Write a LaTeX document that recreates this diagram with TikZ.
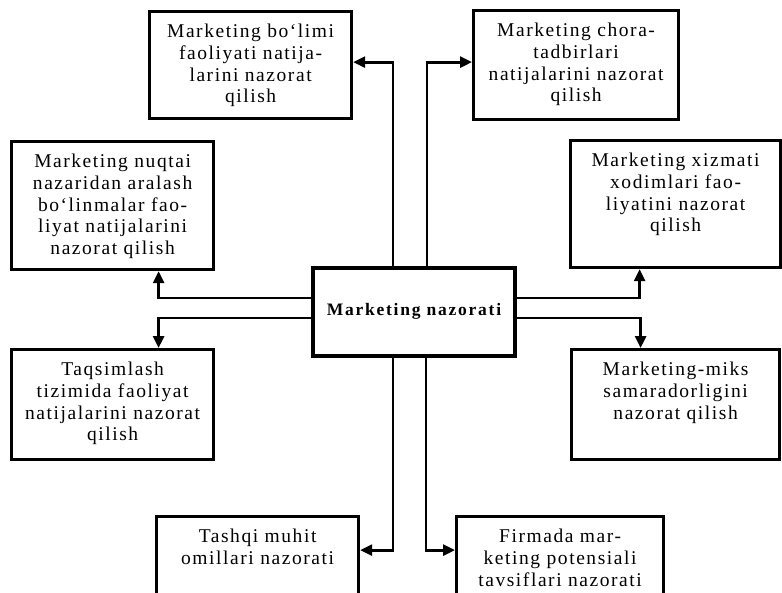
\documentclass[tikz,border=0pt]{standalone}
\usepackage{fontspec}
\setmainfont{Liberation Serif}
\newfontfamily\blokfont[LetterSpace=8]{Liberation Serif}
\newfontfamily\markazfont[LetterSpace=10]{Liberation Serif}
\usetikzlibrary{arrows.meta}
\newcommand{\matn}[3]{\parbox[c][#2][t]{#1}{\blokfont\fontsize{19.5pt}{21.7pt}\selectfont
  \centering\rule{0pt}{26pt}#3}}

\begin{document}
\begin{tikzpicture}[x=1pt,y=-1pt,
  blok/.style={draw,line width=3.2pt,inner sep=0pt,anchor=north west},
  strelka/.style={line width=2.8pt,-{Triangle[length=12pt,width=11pt]}}]
   \useasboundingbox (0,0) rectangle (782,592);
   % markaz
   \node[blok,anchor=center,minimum width=202pt,minimum height=88pt,
     font={\markazfont\bfseries\fontsize{17.5pt}{20pt}\selectfont}] (nazorat) at (414,312)
     {\raisebox{5pt}{Marketing nazorati}};
   % yuqori
   \node[blok] (bolimi) at (148,10)
     {\matn{202pt}{107pt}{Marketing bo‘limi\\faoliyati natija-\\larini nazorat\\qilish}};
   \node[blok] (chora) at (472,9)
     {\matn{205pt}{109pt}{Marketing chora-\\tadbirlari\\natijalarini nazorat\\qilish}};
   % chap
   \node[blok] (nuqtai) at (10,140)
     {\matn{202pt}{128pt}{Marketing nuqtai\\nazaridan aralash\\bo‘linmalar fao-\\liyat natijalarini\\nazorat qilish}};
   \node[blok] (taqsim) at (10,348)
     {\matn{202pt}{110pt}{Taqsimlash\\tizimida faoliyat\\natijalarini nazorat\\qilish}};
   % o'ng
   \node[blok] (xizmat) at (569,139)
     {\matn{210pt}{127pt}{Marketing xizmati\\xodimlari fao-\\liyatini nazorat\\qilish}};
   \node[blok] (miks) at (570,348)
     {\matn{208pt}{110pt}{Marketing-miks\\samaradorligini\\nazorat qilish}};
   % pastki
   \node[blok] (tashqi) at (155,515)
     {\matn{202pt}{79pt}{Tashqi muhit\\omillari nazorati}};
   \node[blok] (firma) at (455,515)
     {\matn{207pt}{79pt}{Firmada mar-\\keting potensiali\\tavsiflari nazorati}};
   % strelkalar
   \draw[strelka] ([xshift=-21pt]nazorat.north) |- ([yshift=3pt]bolimi.east);
   \draw[strelka] ([xshift=13pt]nazorat.north) |- ([yshift=3pt]chora.west);
   \draw[strelka] ([yshift=14pt]nazorat.west) -| ([xshift=46pt]nuqtai.south);
   \draw[strelka] ([yshift=-6pt]nazorat.west) -| ([xshift=46pt]taqsim.north);
   \draw[strelka] ([yshift=14pt]nazorat.east) -| ([xshift=-36pt]xizmat.south);
   \draw[strelka] ([yshift=-6pt]nazorat.east) -| ([xshift=-35pt]miks.north);
   \draw[strelka] ([xshift=-21pt]nazorat.south) |- ([yshift=6pt]tashqi.east);
   \draw[strelka] ([xshift=12pt]nazorat.south) |- ([yshift=6pt]firma.west);
\end{tikzpicture}
\end{document}
